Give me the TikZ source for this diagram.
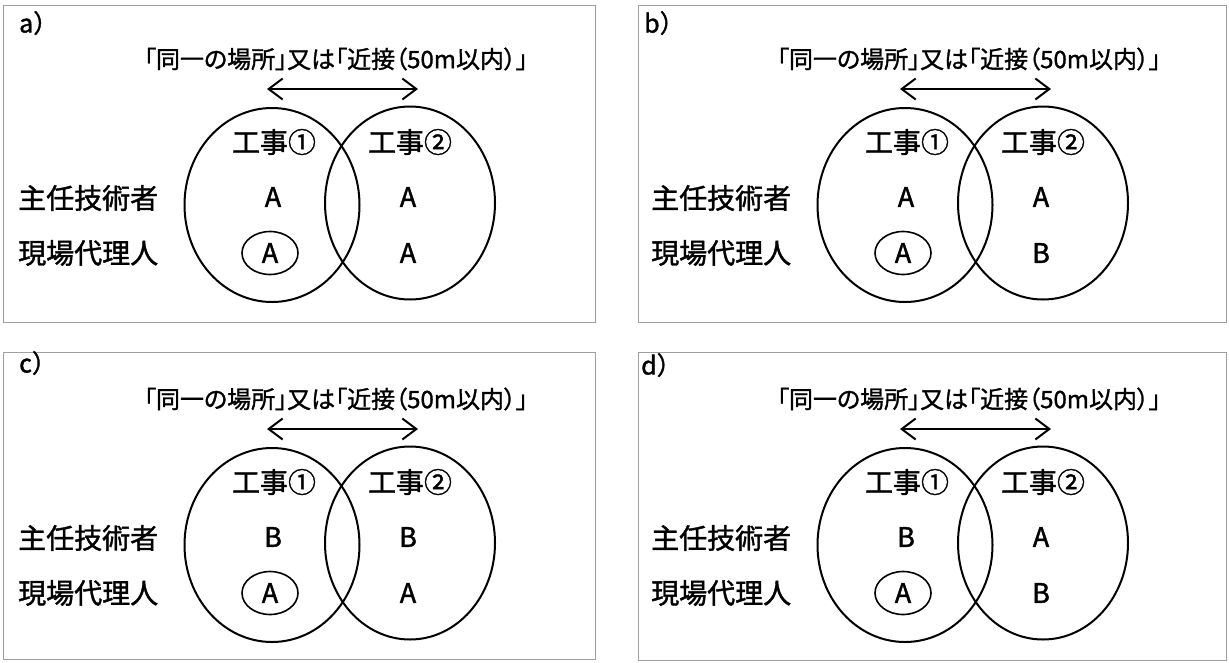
\documentclass[tikz,border=0pt]{standalone}
\usepackage{fontspec}
\setmainfont{Noto Sans CJK JP}
\newfontfamily\jpfont[FakeBold=1.4]{Noto Sans CJK JP}
\newfontfamily\jpprop[FakeBold=1.3,RawFeature=+palt]{Noto Sans CJK JP}
\usetikzlibrary{arrows.meta,shapes.geometric}

\newcommand\mypanel[6]{%
 \begin{scope}[shift={(#2,#3)}]
  \node[ttl] (#1-t) at (336,59) {「同一の場所」又は「近接（50m以内）」};
  \coordinate (#1-l) at (267,89);
  \coordinate (#1-r) at (418,89);
  \draw[dist] (#1-l) -- (#1-r);
  \node[venn, minimum width=175pt, minimum height=194pt] (#1-e1) at (272,205) {};
  \node[venn, minimum width=170pt, minimum height=193pt] (#1-e2) at (410,203) {};
  \node[hd] (#1-k1) at (274,142) {工事①};
  \node[hd] (#1-k2) at (410,142) {工事②};
  \node[rowlab] (#1-p1) at (18,198) {主任技術者};
  \node[rowlab] (#1-p2) at (18,253) {現場代理人};
  \node[val] (#1-v11) at (273,197) {#4};
  \node[val, circ] (#1-v21) at (270,253) {A};
  \node[val] (#1-v12) at (408,197) {#5};
  \node[val] (#1-v22) at (408,253) {#6};
 \end{scope}}

\begin{document}
\begin{tikzpicture}[x=1pt,y=-1pt,
  frame/.style={draw=gray!75, line width=1pt},
  ttl/.style={font=\jpprop\fontsize{24}{24}\selectfont, inner sep=0pt},
  dist/.style={line width=2pt, {Straight Barb[length=14pt,width=21pt]}-{Straight Barb[length=14pt,width=21pt]}},
  venn/.style={draw, ellipse, line width=2pt, inner sep=0pt},
  hd/.style={font=\jpfont\fontsize{28}{28}\selectfont, inner sep=0pt},
  rowlab/.style={font=\jpfont\fontsize{28}{28}\selectfont, inner sep=0pt, anchor=west},
  val/.style={font=\jpfont\fontsize{27}{27}\selectfont, inner sep=0pt},
  circ/.style={draw, ellipse, line width=1.6pt, minimum width=56pt, minimum height=43pt},
  plab/.style={font=\jpfont\fontsize{25}{25}\selectfont, inner sep=0pt, anchor=west}]
\useasboundingbox (0,0) rectangle (1229,662);
\draw[frame] (3,5) rectangle (595,322);
\draw[frame] (638,5) rectangle (1226,322);
\draw[frame] (3,352) rectangle (595,659);
\draw[frame] (638,352) rectangle (1226,660);
\node[plab] (la) at (19,23) {a）};
\node[plab] (lb) at (644,23) {b）};
\node[plab] (lc) at (19,363) {c）};
\node[plab] (ld) at (641,365) {d）};
\mypanel{pa}{0}{0}{A}{A}{A}
\mypanel{pb}{633}{0}{A}{A}{B}
\mypanel{pc}{0}{340}{B}{B}{A}
\mypanel{pd}{633}{340}{B}{A}{B}
\end{tikzpicture}
\end{document}
